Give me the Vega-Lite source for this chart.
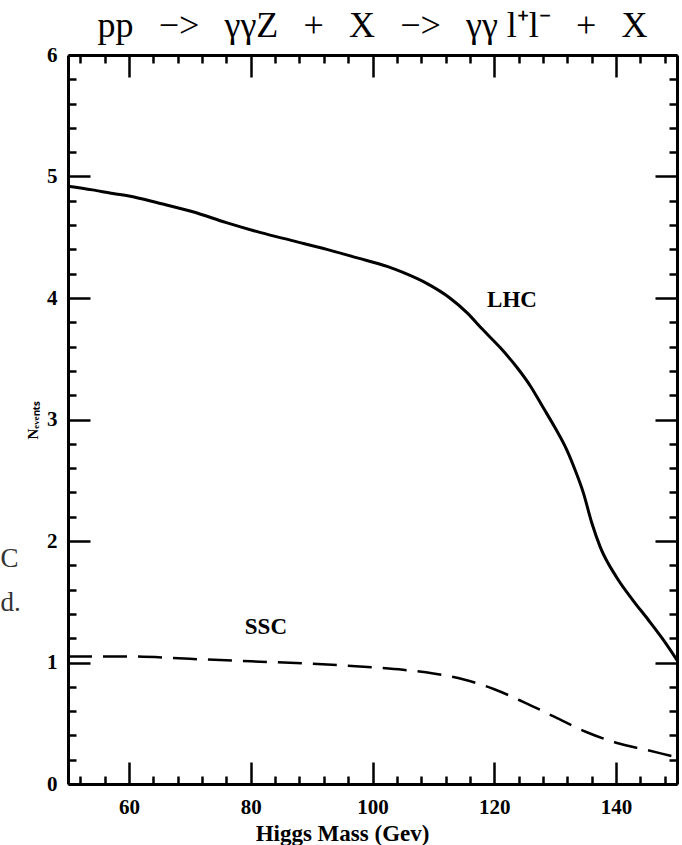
{
  "$schema": "https://vega.github.io/schema/vega-lite/v6.json",
  "width": 609,
  "height": 729,
  "autosize": {"type": "none"},
  "padding": {"left": 68, "top": 55, "right": 5, "bottom": 61},
  "background": "white",
  "title": {
    "text": "pp\u2002\u2009−>\u2002\u2009γγZ\u2002\u2009+\u2002\u2009X\u2002\u2009−>\u2002\u2009γγ l⁺l⁻\u2002\u2009+\u2002\u2009X",
    "font": "Liberation Serif",
    "fontSize": 36,
    "fontWeight": "normal",
    "color": "black",
    "anchor": "middle",
    "frame": "group",
    "baseline": "alphabetic",
    "offset": 12,
    "dy": 41
  },
  "config": {
    "view": {"stroke": null},
    "axis": {
      "grid": false,
      "domainColor": "black",
      "tickColor": "black",
      "labelColor": "black",
      "titleColor": "black",
      "labelFont": "Liberation Serif",
      "titleFont": "Liberation Serif",
      "labelFontWeight": "bold",
      "titleFontWeight": "bold"
    }
  },
  "datasets": {
    "lhc": [
      {"m": 50, "n": 4.92}, {"m": 54, "n": 4.89}, {"m": 57.4, "n": 4.86}, {"m": 60, "n": 4.84},
      {"m": 65, "n": 4.78}, {"m": 70.5, "n": 4.71}, {"m": 76, "n": 4.62}, {"m": 81.5, "n": 4.54},
      {"m": 87, "n": 4.47}, {"m": 92.5, "n": 4.40}, {"m": 97.5, "n": 4.33}, {"m": 102.4, "n": 4.26},
      {"m": 105, "n": 4.21}, {"m": 108.9, "n": 4.12}, {"m": 112.7, "n": 4.00}, {"m": 115.5, "n": 3.88},
      {"m": 118.1, "n": 3.74}, {"m": 121, "n": 3.59}, {"m": 123.7, "n": 3.43}, {"m": 126, "n": 3.27},
      {"m": 128, "n": 3.10}, {"m": 130, "n": 2.93}, {"m": 131.9, "n": 2.75}, {"m": 133.3, "n": 2.58},
      {"m": 134.6, "n": 2.40}, {"m": 136, "n": 2.15}, {"m": 137.4, "n": 1.95}, {"m": 140.1, "n": 1.70},
      {"m": 142.8, "n": 1.51}, {"m": 145.3, "n": 1.35}, {"m": 147.7, "n": 1.19}, {"m": 150, "n": 1.02}
    ],
    "ssc": [
      {"m": 50, "n": 1.05}, {"m": 55, "n": 1.05}, {"m": 60, "n": 1.05}, {"m": 70, "n": 1.03},
      {"m": 80, "n": 1.01}, {"m": 90, "n": 0.99}, {"m": 100, "n": 0.96}, {"m": 105, "n": 0.94},
      {"m": 110, "n": 0.91}, {"m": 115, "n": 0.86}, {"m": 120, "n": 0.78}, {"m": 125, "n": 0.67},
      {"m": 130, "n": 0.55}, {"m": 135, "n": 0.43}, {"m": 140, "n": 0.34}, {"m": 145, "n": 0.28},
      {"m": 150, "n": 0.22}
    ],
    "lab1": [{"m": 122.9, "n": 3.98, "t": "LHC"}],
    "lab2": [{"m": 82.5, "n": 1.29, "t": "SSC"}],
    "page": [{"m": 38.9, "n": 1.79, "t": "C"}, {"m": 38.9, "n": 1.42, "t": "d."}]
  },
  "resolve": {"axis": {"x": "independent", "y": "independent"}},
  "layer": [
    {
      "data": {"name": "lhc"},
      "mark": {"type": "line", "color": "black", "strokeWidth": 3, "interpolate": "monotone"},
      "encoding": {
        "x": {"field": "m", "type": "quantitative",
          "scale": {"domain": [50, 150], "nice": false, "zero": false},
          "axis": {"orient": "bottom", "values": [60, 80, 100, 120, 140], "ticks": false,
            "domain": true, "domainWidth": 3, "labelFontSize": 21, "labelPadding": 12,
            "title": "Higgs Mass (Gev)", "titleFontSize": 23, "titleX": 274, "titleY": 56, "titleAnchor": null, "titleAlign": "center", "titleBaseline": "alphabetic"}},
        "y": {"field": "n", "type": "quantitative",
          "scale": {"domain": [0, 6], "nice": false, "zero": false},
          "axis": {"orient": "left", "values": [0, 1, 2, 3, 4, 5, 6], "ticks": false,
            "domain": true, "domainWidth": 3, "labelFontSize": 21, "labelPadding": 11,
            "title": "Nₑᵥₑₙₜₛ", "titleFontSize": 15, "titleX": -36, "titleY": 365, "titleAlign": "center", "titleAngle": -90, "titleBaseline": "middle"}}
      }
    },
    {
      "data": {"name": "ssc"},
      "mark": {"type": "line", "color": "black", "strokeWidth": 2.5, "strokeDash": [24, 11], "interpolate": "monotone"},
      "encoding": {
        "x": {"field": "m", "type": "quantitative",
          "axis": {"orient": "bottom", "values": [60, 80, 100, 120, 140], "tickSize": -22, "tickWidth": 2.5,
            "labels": false, "domain": false, "title": null}},
        "y": {"field": "n", "type": "quantitative",
          "axis": {"orient": "left", "values": [0, 1, 2, 3, 4, 5, 6], "tickSize": -22, "tickWidth": 2.5,
            "labels": false, "domain": false, "title": null}}
      }
    },
    {
      "data": {"name": "lab1"},
      "mark": {"type": "text", "font": "Liberation Serif", "fontWeight": "bold", "fontSize": 23, "color": "black", "align": "center", "baseline": "middle"},
      "encoding": {
        "x": {"field": "m", "type": "quantitative",
          "axis": {"orient": "bottom", "values": [52,56,64,68,72,76,84,88,92,96,104,108,112,116,124,128,132,136,144,148],
            "tickSize": -8, "tickWidth": 2.5, "labels": false, "domain": false, "title": null}},
        "y": {"field": "n", "type": "quantitative",
          "axis": {"orient": "left", "values": [0.2,0.4,0.6,0.8,1.2,1.4,1.6,1.8,2.2,2.4,2.6,2.8,3.2,3.4,3.6,3.8,4.2,4.4,4.6,4.8,5.2,5.4,5.6,5.8],
            "tickSize": -8, "tickWidth": 2.5, "labels": false, "domain": false, "title": null}},
        "text": {"field": "t"}
      }
    },
    {
      "data": {"name": "lab2"},
      "mark": {"type": "text", "font": "Liberation Serif", "fontWeight": "bold", "fontSize": 23, "color": "black", "align": "center", "baseline": "middle"},
      "encoding": {
        "x": {"field": "m", "type": "quantitative",
          "axis": {"orient": "top", "values": [60, 80, 100, 120, 140], "tickSize": -22, "tickWidth": 2.5,
            "labels": false, "domain": true, "domainWidth": 3, "title": null}},
        "y": {"field": "n", "type": "quantitative",
          "axis": {"orient": "right", "values": [0, 1, 2, 3, 4, 5, 6], "tickSize": -22, "tickWidth": 2.5,
            "labels": false, "domain": true, "domainWidth": 3, "title": null}},
        "text": {"field": "t"}
      }
    },
    {
      "data": {"name": "page"},
      "mark": {"type": "text", "font": "Liberation Serif", "fontWeight": "normal", "fontSize": 27, "color": "#333333", "align": "left", "baseline": "alphabetic"},
      "encoding": {
        "x": {"field": "m", "type": "quantitative",
          "axis": {"orient": "top", "values": [52,56,64,68,72,76,84,88,92,96,104,108,112,116,124,128,132,136,144,148],
            "tickSize": -8, "tickWidth": 2.5, "labels": false, "domain": false, "title": null}},
        "y": {"field": "n", "type": "quantitative",
          "axis": {"orient": "right", "values": [0.2,0.4,0.6,0.8,1.2,1.4,1.6,1.8,2.2,2.4,2.6,2.8,3.2,3.4,3.6,3.8,4.2,4.4,4.6,4.8,5.2,5.4,5.6,5.8],
            "tickSize": -8, "tickWidth": 2.5, "labels": false, "domain": false, "title": null}},
        "text": {"field": "t"}
      }
    }
  ]
}
